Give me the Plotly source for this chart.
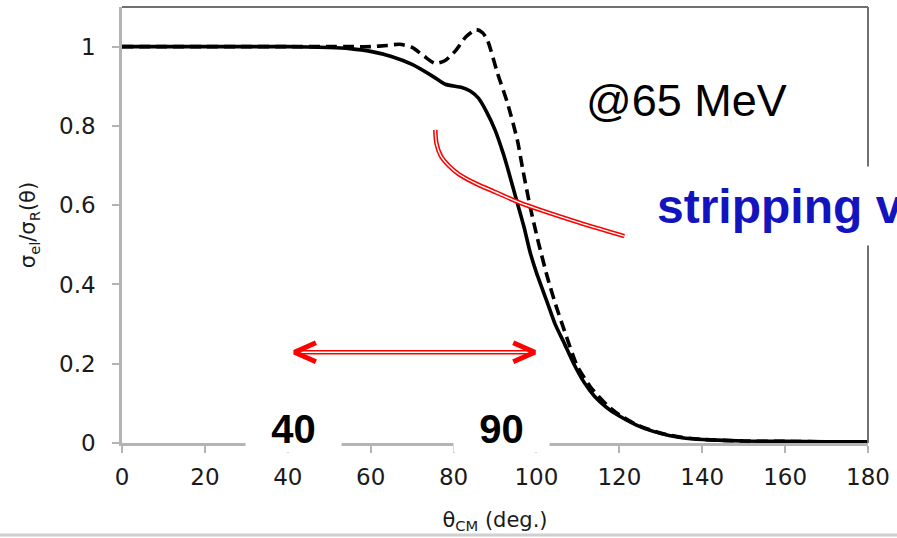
import plotly.graph_objects as go

# ---- data ----
theta_solid = [0, 10, 20, 30, 40, 50, 55, 60, 65, 70, 75, 78, 82, 84, 86, 88, 90, 92, 93, 95, 97, 98.5,
               100, 102.6, 104.5, 106.7, 109, 111.5, 114, 117, 120, 124, 128, 132, 136, 140, 150, 160, 170, 180]
ratio_solid = [1.0, 1.0, 1.0, 1.0, 1.0, 0.998, 0.995, 0.988, 0.975, 0.955, 0.925, 0.905, 0.897, 0.888,
               0.87, 0.835, 0.79, 0.73, 0.695, 0.62, 0.545, 0.48, 0.43, 0.355, 0.3, 0.252, 0.2, 0.153,
               0.118, 0.089, 0.068, 0.046, 0.03, 0.019, 0.012, 0.009, 0.005, 0.004, 0.003, 0.003]

theta_dash = [0, 10, 20, 30, 40, 50, 55, 60, 64, 67, 70, 73, 75.5, 78, 80.5, 83, 85.5, 87, 88.2, 90.6,
              93, 95.4, 96.6, 98.5, 100.5, 102.6, 104.6, 106.7, 109.8, 113, 117, 120, 124, 128, 132,
              136, 140, 150, 160, 170, 180]
ratio_dash = [1.0, 1.0, 1.0, 1.0, 1.0, 1.0, 1.0, 1.0, 1.003, 1.006, 0.998, 0.975, 0.958, 0.965, 0.99,
              1.025, 1.043, 1.035, 1.016, 0.933, 0.858, 0.764, 0.696, 0.595, 0.505, 0.42, 0.35, 0.285,
              0.195, 0.142, 0.096, 0.071, 0.047, 0.031, 0.02, 0.013, 0.009, 0.005, 0.004, 0.003, 0.003]

x_ticks = [0, 20, 40, 60, 80, 100, 120, 140, 160, 180]
y_ticks = [0, 0.2, 0.4, 0.6, 0.8, 1.0]
y_ticktext = ["0", "0.2", "0.4", "0.6", "0.8", "1"]

# annotation graphics (red double-line curve and double arrow)
curve_x = [75.6, 75.9, 76.9, 78.8, 81.3, 85.3, 90.3, 95.8, 102.3, 110.3, 121.2]
curve_y = [0.79, 0.755, 0.725, 0.70, 0.678, 0.655, 0.632, 0.607, 0.583, 0.556, 0.522]
arrow_x = [42.2, 99.0]
arrow_y = [0.229, 0.229]
head_left_x = [46.8, 41.6, 46.8]
head_right_x = [94.4, 99.6, 94.4]
head_y = [0.253, 0.229, 0.205]

RED = "#ff0000"
FONT = "Liberation Sans, Arial, sans-serif"
TICKFONT = "DejaVu Sans, sans-serif"

fig = go.Figure()

fig.add_trace(go.Scatter(x=theta_dash, y=ratio_dash, mode="lines",
                         line=dict(color="black", width=3.6, dash="11px,6px", shape="spline", smoothing=0.6),
                         hoverinfo="skip", showlegend=False))
fig.add_trace(go.Scatter(x=theta_solid, y=ratio_solid, mode="lines",
                         line=dict(color="black", width=3.6, shape="spline", smoothing=0.6),
                         hoverinfo="skip", showlegend=False))

# red double curve
fig.add_trace(go.Scatter(x=curve_x, y=curve_y, mode="lines",
                         line=dict(color=RED, width=4.5, shape="spline"), hoverinfo="skip", showlegend=False))
fig.add_trace(go.Scatter(x=curve_x, y=curve_y, mode="lines",
                         line=dict(color="white", width=1.4, shape="spline"), hoverinfo="skip", showlegend=False))
# red double arrow
fig.add_trace(go.Scatter(x=arrow_x, y=arrow_y, mode="lines",
                         line=dict(color=RED, width=4.5), hoverinfo="skip", showlegend=False))
fig.add_trace(go.Scatter(x=arrow_x, y=arrow_y, mode="lines",
                         line=dict(color="white", width=1.4), hoverinfo="skip", showlegend=False))
fig.add_trace(go.Scatter(x=head_left_x, y=head_y, mode="lines",
                         line=dict(color=RED, width=5), hoverinfo="skip", showlegend=False))
fig.add_trace(go.Scatter(x=head_right_x, y=head_y, mode="lines",
                         line=dict(color=RED, width=5), hoverinfo="skip", showlegend=False))

fig.update_layout(
    width=897, height=538,
    margin=dict(l=122, r=24, t=7, b=95),
    paper_bgcolor="white", plot_bgcolor="white",
    font=dict(family=FONT, color="black"),
    xaxis=dict(range=[0, 180], tickvals=x_ticks, ticks="outside", ticklen=7, tickwidth=2,
               tickcolor="#b4b4b4", showline=True, linecolor="#b4b4b4", linewidth=2.5,
               showgrid=False, zeroline=False, ticklabelstandoff=5,
               tickfont=dict(family=TICKFONT, size=23, color="#1a1a1a"),
               title=dict(text="θ<sub>CM</sub> (deg.)", font=dict(family=TICKFONT, size=21, color="#1a1a1a"),
                          standoff=23)),
    yaxis=dict(range=[0, 1.1], tickvals=y_ticks, ticktext=y_ticktext, ticks="outside", ticklen=7,
               tickwidth=2, tickcolor="#b4b4b4", showline=True, linecolor="#b4b4b4", linewidth=2.5,
               showgrid=False, zeroline=False, ticklabelstandoff=12,
               tickfont=dict(family=TICKFONT, size=23, color="#1a1a1a"),
               title=dict(text="σ<sub>el</sub>/σ<sub>R</sub>(θ)", font=dict(family=TICKFONT, size=21, color="#1a1a1a"),
                          standoff=18)),
    shapes=[
        dict(type="line", xref="paper", yref="paper", x0=0, x1=1, y0=1, y1=1,
             line=dict(color="#707070", width=2)),
        dict(type="line", xref="paper", yref="paper", x0=1, x1=1, y0=0, y1=1,
             line=dict(color="#707070", width=2)),
        dict(type="line", xref="paper", yref="paper", x0=-0.17, x1=1.04, y0=-0.211, y1=-0.211,
             line=dict(color="#cfcfcf", width=3)),
    ],
    annotations=[
        dict(text="@65 MeV", xref="paper", yref="paper", x=(587 - 122) / 751, y=(443 - 100) / 436,
             xanchor="left", yanchor="middle", showarrow=False,
             font=dict(family=FONT, size=45, color="black")),
        dict(text="<b>stripping v</b>", xref="paper", yref="paper", x=(660 - 122) / 751, y=(443 - 206) / 436,
             xanchor="left", yanchor="middle", showarrow=False, align="left", width=360, height=78,
             bgcolor="white", borderpad=0,
             font=dict(family=FONT, size=48, color="#1414bf")),
        dict(text="<b>40</b>", xref="x", yref="paper", x=41.3, y=(443 - 429) / 436,
             xanchor="center", yanchor="middle", showarrow=False, width=95, height=46,
             bgcolor="white", borderpad=0, font=dict(family=FONT, size=40, color="black")),
        dict(text="<b>90</b>", xref="x", yref="paper", x=91.5, y=(443 - 429) / 436,
             xanchor="center", yanchor="middle", showarrow=False, width=95, height=46,
             bgcolor="white", borderpad=0, font=dict(family=FONT, size=40, color="black")),
    ],
)

fig.write_html("out.html")
